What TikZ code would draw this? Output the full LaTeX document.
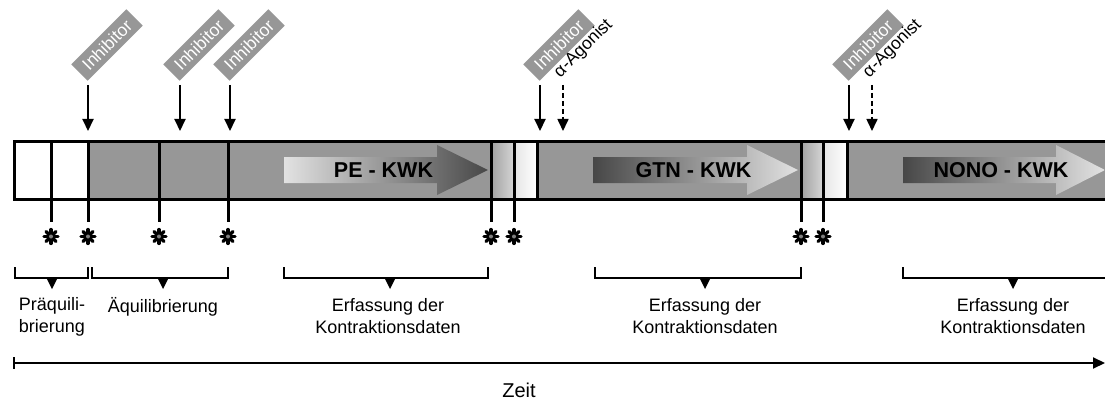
\documentclass[tikz,border=0pt]{standalone}
\usepackage{fontspec}
\setmainfont{Liberation Sans}
\usetikzlibrary{arrows.meta}
\definecolor{bargray}{HTML}{979797}
\definecolor{lightg}{HTML}{E2E2E2}
\definecolor{darkg}{HTML}{474747}
\begin{document}
\begin{tikzpicture}[x=1pt,y=-1pt,
  barline/.style={line width=3pt},
  stub/.style={line width=3pt},
  inharr/.style={line width=2pt,-{Triangle[length=12pt,width=11pt]}},
  agoarr/.style={line width=1.6pt,dash pattern=on 5pt off 3pt,-{Triangle[length=12pt,width=11pt]}},
  inhlabel/.style={fill=bargray,text=white,rotate=45,minimum width=78pt,minimum height=23pt,inner sep=0pt,font=\fontsize{17.5}{17.5}\selectfont},
  agolabel/.style={rotate=45,anchor=south west,inner sep=0pt,font=\fontsize{17.5}{17.5}\selectfont},
  kwk/.style={font=\bfseries\fontsize{21.5}{22}\selectfont},
  lbl/.style={align=center,font=\fontsize{18}{22}\selectfont},
  brk/.style={line width=2pt},
  spoke/.style={line width=3.2pt,line cap=round}]
\useasboundingbox (0,0) rectangle (1105,401);
% bar fills
\fill[white] (14,141) rectangle (88,199);
\fill[bargray] (88,141) rectangle (491,199);
\shade[left color=bargray!90!white,right color=bargray!40!white] (491,141) rectangle (514,199);
\shade[left color=bargray!25!white,right color=white] (514,141) rectangle (537,199);
\fill[bargray] (537,141) rectangle (801,199);
\shade[left color=bargray!90!white,right color=bargray!40!white] (801,141) rectangle (823,199);
\shade[left color=bargray!25!white,right color=white] (823,141) rectangle (847,199);
\fill[bargray] (847,141) rectangle (1105,199);
% gradient arrows
\shade[left color=lightg,right color=darkg] (284,157) -- (437,157) -- (437,145) -- (488,170) -- (437,195) -- (437,183) -- (284,183) -- cycle;
\shade[left color=darkg,right color=lightg] (593,157) -- (747,157) -- (747,145) -- (798,170) -- (747,195) -- (747,183) -- (593,183) -- cycle;
\shade[left color=darkg,right color=lightg!95!white] (903,157) -- (1056,157) -- (1056,145) -- (1105,170) -- (1056,195) -- (1056,183) -- (903,183) -- cycle;
\node[kwk] (pe) at (383.5,170) {PE - KWK};
\node[kwk] (gtn) at (693.5,170) {GTN - KWK};
\node[kwk] (nono) at (1001,170) {NONO - KWK};
% bar outline
\draw[barline] (1105,141) -- (14,141) -- (14,199) -- (1105,199);
\foreach \x in {51,88,159,228,491,514,537,801,823,847}
  \draw[stub] (\x,141) -- (\x,199);
% stubs and asterisks
\foreach \x/\n in {51/s1,88/s2,159/s3,228/s4,491/s5,514/s6,801/s7,823/s8}{
  \draw[stub] (\x,199) -- (\x,222);
  \coordinate (\n) at (\x,236.5);
  \foreach \a in {0,45,90,135}
    \draw[spoke,shift={(\n)}] (\a:7) -- (\a+180:7);
  \fill[gray,shift={(\n)}] (0,0) circle (2pt);
}
% inhibitor labels and arrows
\foreach \x/\n in {88/i1,180/i2,230/i3,540/i4,849/i5}{
  \node[inhlabel] (\n) at (\x+19,45) {Inhibitor};
  \coordinate (\n s) at (\x,85);
  \coordinate (\n e) at (\x,131);
  \draw[inharr] (\n s) -- (\n e);
}
\foreach \x/\n in {563/g1,872/g2}{
  \node[agolabel] (\n) at (\x,81) {α-Agonist};
  \coordinate (\n s) at (\x,85);
  \coordinate (\n e) at (\x,131);
  \draw[agoarr] (\n s) -- (\n e);
}
% brackets
\foreach \a/\b/\m/\n in {15/88/52/b1,92/228/163/b2,284/488/390/b3,595/801/705/b4}{
  \draw[brk] (\a,267) -- (\a,278) -- (\b,278) -- (\b,267);
  \fill (\m-5.5,278) -- (\m+5.5,278) -- (\m,289) -- cycle;
}
\draw[brk] (903,267) -- (903,278) -- (1105,278);
\fill (1013-5.5,278) -- (1013+5.5,278) -- (1013,289) -- cycle;
\node[lbl] (l1) at (52,317) {Präquili-\\brierung};
\node[lbl,anchor=center] (l2) at (163,307) {Äquilibrierung};
\node[lbl] (l3) at (388,316) {Erfassung der\\Kontraktionsdaten};
\node[lbl] (l4) at (705,316) {Erfassung der\\Kontraktionsdaten};
\node[lbl] (l5) at (1013,316) {Erfassung der\\Kontraktionsdaten};
% time axis
\coordinate (t0) at (14,363);
\coordinate (t1) at (1105,363);
\draw[line width=2pt,-{Triangle[length=12pt,width=11pt]}] (t0) -- (t1);
\draw[line width=2pt] (14,357) -- (14,369);
\node[font=\fontsize{20}{20}\selectfont] (zeit) at (519,390) {Zeit};
\end{tikzpicture}
\end{document}
